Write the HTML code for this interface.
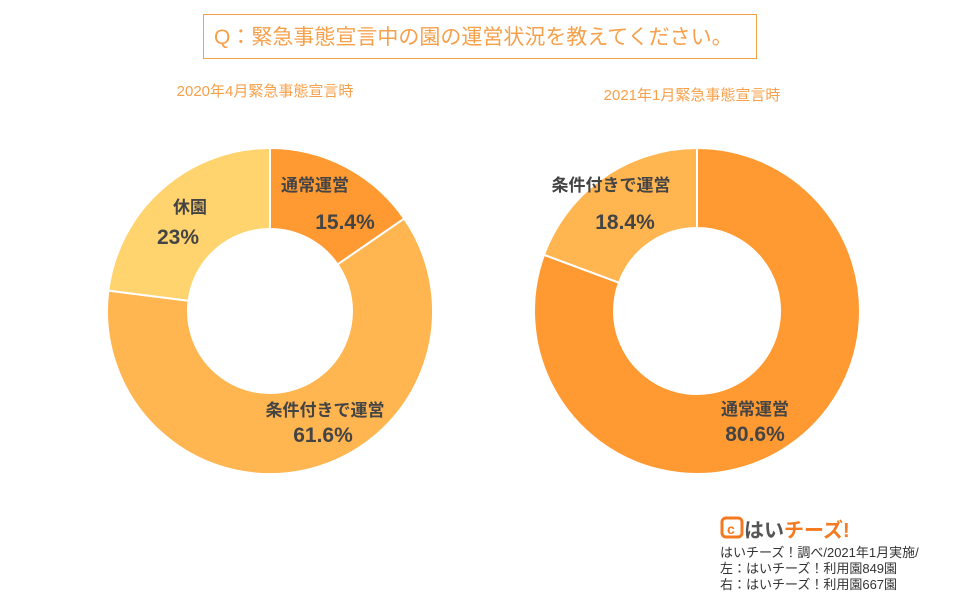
<!DOCTYPE html>
<html><head><meta charset="utf-8"><style>
body{margin:0;background:#fff;width:960px;height:600px;overflow:hidden;font-family:"Liberation Sans","Noto Sans CJK JP",sans-serif;}
</style></head><body>
<svg width="960" height="600" xmlns="http://www.w3.org/2000/svg" style="position:absolute;left:0;top:0">
<rect x="203.5" y="14.5" width="553" height="44" fill="#fff" stroke="#F7A04A" stroke-width="1"/>
<text x="214" y="44" font-size="21" fill="#F7A04A" font-family="Liberation Sans,Noto Sans CJK JP,sans-serif">Q：緊急事態宣言中の園の運営状況を教えてください。</text>
<text x="265" y="96" font-size="15" fill="#F7A04A" text-anchor="middle" font-family="Liberation Sans,Noto Sans CJK JP,sans-serif">2020年4月緊急事態宣言時</text>
<text x="692" y="100" font-size="15" fill="#F7A04A" text-anchor="middle" font-family="Liberation Sans,Noto Sans CJK JP,sans-serif">2021年1月緊急事態宣言時</text>
<g stroke="#fff" stroke-width="2">
<path d="M270 148 A163 163 0 0 1 404.2 218.6 L337.5 264.5 A82 82 0 0 0 270 229 Z" fill="#FF9A33"/>
<path d="M404.2 218.6 A163 163 0 1 1 108.3 290.6 L188.6 300.7 A82 82 0 1 0 337.5 264.5 Z" fill="#FFB550"/>
<path d="M108.3 290.6 A163 163 0 0 1 270 148 L270 229 A82 82 0 0 0 188.6 300.7 Z" fill="#FFD36E"/>
<path d="M697 148 A163 163 0 1 1 544.0 254.8 L619.0 282.7 A83 83 0 1 0 697 228 Z" fill="#FF9A33"/>
<path d="M544.0 254.8 A163 163 0 0 1 697 148 L697 228 A83 83 0 0 0 619.0 282.7 Z" fill="#FFB550"/>
</g>
<g fill="#444" font-weight="bold" font-family="Liberation Sans,Noto Sans CJK JP,sans-serif" text-anchor="middle">
<text x="315" y="191" font-size="17">通常運営</text>
<text x="345" y="229" font-size="21">15.4%</text>
<text x="190" y="213" font-size="17">休園</text>
<text x="178" y="244" font-size="21">23%</text>
<text x="325" y="416" font-size="17">条件付きで運営</text>
<text x="323" y="442" font-size="21">61.6%</text>
<text x="611" y="191" font-size="17">条件付きで運営</text>
<text x="625" y="229" font-size="21">18.4%</text>
<text x="755" y="415" font-size="17">通常運営</text>
<text x="755" y="441" font-size="21">80.6%</text>
</g>
<rect x="722" y="518" width="20" height="19" rx="4" fill="none" stroke="#F47A20" stroke-width="3"/>
<text x="727" y="534" font-size="14" font-weight="bold" fill="#F47A20">c</text>
<text x="744" y="537" font-size="20" font-weight="bold" fill="#555" font-family="Liberation Sans,Noto Sans CJK JP,sans-serif">はい<tspan fill="#F47A20">チーズ!</tspan></text>
<g font-size="13" fill="#333" font-family="Liberation Sans,Noto Sans CJK JP,sans-serif">
<text x="720" y="557">はいチーズ！調べ/2021年1月実施/</text>
<text x="720" y="573">左：はいチーズ！利用園849園</text>
<text x="720" y="589">右：はいチーズ！利用園667園</text>
</g>
</svg>
</body></html>
